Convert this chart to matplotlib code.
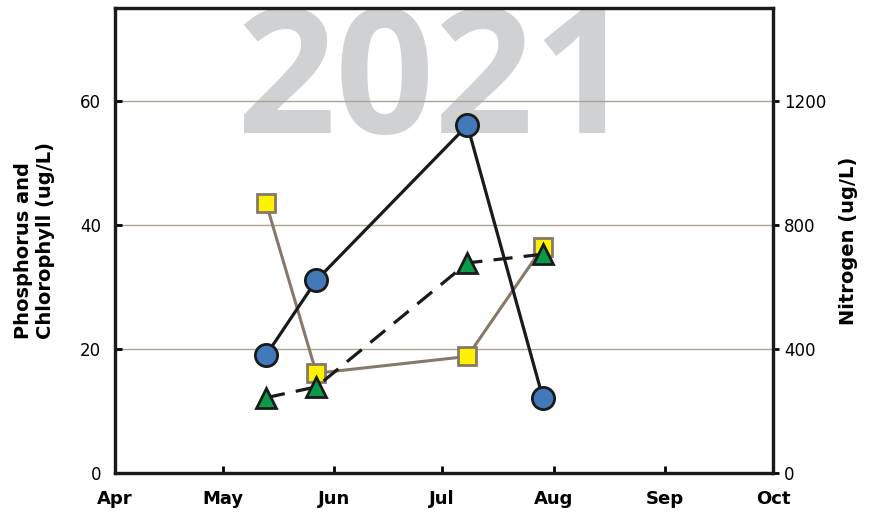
import matplotlib.pyplot as plt
import numpy as np

# sampling dates and values
dates = np.array(["2021-05-13", "2021-05-27", "2021-07-08", "2021-07-29"], dtype="datetime64[D]")
phosphorus = [19.0, 31.1, 56.1, 12.1]
chlorophyll = [43.6, 16.1, 18.8, 36.5]
nitrogen = [243, 278, 678, 706]

month_ticks = np.array(["2021-04-01", "2021-05-01", "2021-06-01", "2021-07-01",
                        "2021-08-01", "2021-09-01", "2021-10-01"], dtype="datetime64[D]")
month_labels = ["Apr", "May", "Jun", "Jul", "Aug", "Sep", "Oct"]
left_ticks = [0, 20, 40, 60]
right_ticks = [0, 400, 800, 1200]

plt.rcParams["font.family"] = ["DejaVu Sans"]

fig = plt.figure(figsize=(8.72, 5.12), dpi=100)
ax = fig.add_axes([0.1319, 0.0762, 0.7546, 0.9078])
ax2 = ax.twinx()

# year watermark just under the top of the frame
ax.text(0.486, 0.731, "2021", transform=ax.transAxes, ha="center", va="baseline",
        fontsize=125, fontweight="bold", family="Open Sans", color="#d0d1d3",
        zorder=0, clip_on=False)

for y in left_ticks[1:]:
    ax.axhline(y, color="#aca392", lw=1.0, zorder=1)

ax.plot(dates, chlorophyll, color="#86796a", lw=2.2, marker="s", markersize=13,
        markerfacecolor="#fff200", markeredgecolor="#86796a", markeredgewidth=2, zorder=3)
ax.plot(dates, phosphorus, color="#1a1a1a", lw=2.3, marker="o", markersize=16,
        markerfacecolor="#4279b8", markeredgecolor="#1a1a1a", markeredgewidth=2, zorder=4)
ax2.plot(dates, nitrogen, color="#1a1a1a", lw=2.3, dashes=(6, 3.5), marker="^", markersize=15,
         markerfacecolor="#0a9a4a", markeredgecolor="#1a1a1a", markeredgewidth=2, zorder=5)

ax.set_xlim(month_ticks[0], month_ticks[-1])
ax.set_ylim(0, 75)
ax2.set_ylim(0, 1500)

ax.set_xticks(month_ticks)
ax.set_xticklabels(month_labels, fontweight="bold", fontsize=13)
ax.set_yticks(left_ticks)
ax.set_yticklabels([str(v) for v in left_ticks], fontsize=12)
ax2.set_yticks(right_ticks)
ax2.set_yticklabels([str(v) for v in right_ticks], fontsize=12)

ax.tick_params(axis="x", direction="in", length=5, width=2, pad=12)
ax.tick_params(axis="y", direction="in", length=5, width=2, pad=10)
ax2.tick_params(axis="y", direction="out", length=4, width=2, pad=4)

for a in (ax, ax2):
    for s in a.spines.values():
        s.set_linewidth(2.3)
        s.set_color("#1a1a1a")

ax.set_ylabel("Phosphorus and\nChlorophyll (ug/L)", fontsize=14, fontweight="bold",
              labelpad=18, multialignment="left")
ax2.set_ylabel("Nitrogen (ug/L)", fontsize=14, fontweight="bold", labelpad=9)

fig.savefig("out.png", dpi=100)
